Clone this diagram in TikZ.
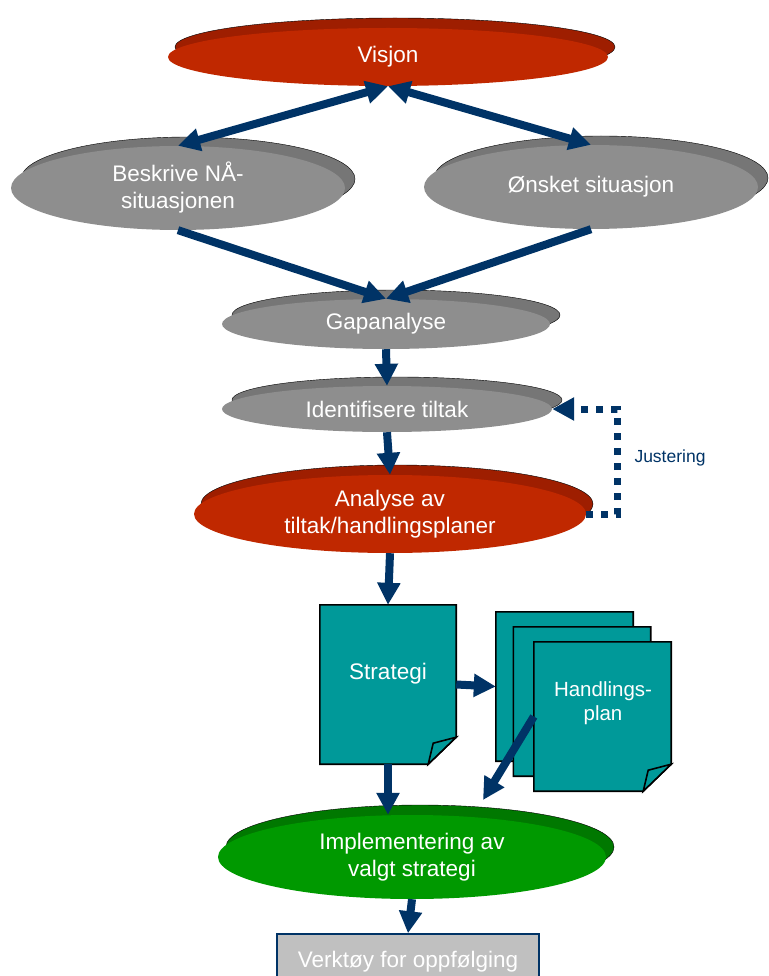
\documentclass[tikz,border=0pt]{standalone}
\usepackage{fontspec}
\setmainfont{Liberation Sans}
\usetikzlibrary{arrows.meta,shapes.geometric,shadows}
\definecolor{navy}{HTML}{003366}
\definecolor{visred}{HTML}{C02800}
\definecolor{visreddark}{HTML}{9E1E00}
\definecolor{stagegray}{HTML}{8E8E8E}
\definecolor{stagegraydark}{HTML}{767676}
\definecolor{implgreen}{HTML}{009900}
\definecolor{implgreendark}{HTML}{007800}
\definecolor{pageteal}{HTML}{009999}
\definecolor{toolgray}{HTML}{C0C0C0}
\tikzset{
  stage/.style={ellipse, inner sep=0pt, text=white, align=center,
    font=\fontsize{22.5}{27}\selectfont},
  redstage/.style={stage, fill=visred,
    copy shadow={shadow xshift=7pt, shadow yshift=10pt, fill=visreddark, opacity=1}},
  graystage/.style={stage, fill=stagegray,
    copy shadow={shadow xshift=10pt, shadow yshift=9pt, fill=stagegraydark, opacity=1}},
  greenstage/.style={stage, fill=implgreen,
    copy shadow={shadow xshift=8pt, shadow yshift=10pt, fill=implgreendark, opacity=1}},
  page/.style={rectangle, inner sep=0pt, minimum width=137pt, minimum height=149pt},
  pageline/.style={fill=pageteal, draw=black, line width=1.6pt, line join=miter},
  pagetext/.style={text=white, align=center, font=\fontsize{22.5}{27}\selectfont},
  toolbox/.style={rectangle, fill=toolgray, draw=navy, line width=1.5pt, text=white,
    minimum width=262pt, minimum height=56pt, font=\fontsize{22.5}{27}\selectfont},
  flow/.style={draw=navy, line width=8pt, ->},
  adjust/.style={draw=navy, line width=7pt, dash pattern=on 7pt off 8pt, ->},
  >={Triangle[length=22pt,width=22pt]}
}
% page with folded corner, drawn from the anchors of a page node
\newcommand{\pageoutline}[1]{%
  \filldraw[pageline] (#1.north west) -- (#1.north east) -- ([yshift=27pt]#1.south east)
    -- ([xshift=-28pt]#1.south east) -- (#1.south west) -- cycle;
  \filldraw[pageline] ([yshift=27pt]#1.south east) -- ([xshift=-28pt]#1.south east)
    -- ([xshift=-23pt,yshift=21pt]#1.south east) -- cycle;}
\begin{document}
\begin{tikzpicture}[x=1pt, y=-1pt]
  \useasboundingbox (0,0) rectangle (768,976);
  \node[redstage, minimum width=440pt, minimum height=58pt] (visjon) at (388,57) {Visjon};
  \node[graystage, minimum width=334pt, minimum height=84pt] (beskrive) at (178,188) {Beskrive NÅ-\\situasjonen};
  \node[graystage, minimum width=334pt, minimum height=84pt] (onsket) at (591,187) {Ønsket situasjon};
  \node[graystage, minimum width=328pt, minimum height=50pt] (gap) at (386,324) {Gapanalyse};
  \node[graystage, minimum width=330pt, minimum height=46pt] (ident) at (387,409) {Identifisere tiltak};
  \node[redstage, minimum width=392pt, minimum height=78pt] (analyse) at (390,514) {Analyse av\\tiltak/handlingsplaner};
  % documents
  \node[page, minimum width=136pt, minimum height=159pt] (strategi) at (388,684.5) {};
  \pageoutline{strategi}
  \node[pagetext] (strategitxt) at ([yshift=11pt]strategi.center) {Strategi};
  \node[page] (hp1) at (564.5,686.5) {};
  \pageoutline{hp1}
  \node[page] (hp2) at (582,701.5) {};
  \pageoutline{hp2}
  \node[page] (hp3) at (602.5,716.5) {};
  \pageoutline{hp3}
  \node[pagetext, font=\fontsize{20.5}{24}\selectfont] (hptxt) at (603,703) {Handlings-\\plan};
  \node[greenstage, minimum width=388pt, minimum height=84pt] (impl) at (412,857) {Implementering av\\valgt strategi};
  \node[toolbox] (verktoy) at (408,962) {\raisebox{6pt}{Verktøy for oppfølging}};
  \node[text=navy, font=\fontsize{17.5}{20}\selectfont] (justering) at (670,458) {Justering};
  \coordinate (hpend) at (483,800);
  % connectors
  \draw[flow, <->] (beskrive.north) -- (visjon.south);
  \draw[flow, <->] (onsket.north) -- (visjon.south);
  \draw[flow] (beskrive.south) -- (gap.north);
  \draw[flow] (onsket.south) -- (gap.north);
  \draw[flow] (gap.south) -- (ident.north);
  \draw[flow] (ident.south) -- (analyse.north);
  \draw[flow] (analyse.south) -- (strategi.north);
  \draw[flow] (strategi.east) -- (hp1.west);
  \draw[flow] (strategi.south) -- (strategi.south |- impl.north);
  \draw[flow] (hp3.west) -- (hpend);
  \draw[flow] (impl.south) -- (verktoy.north);
  \draw[adjust] (analyse.east) -- ++(31,0) |- (ident.east);
\end{tikzpicture}
\end{document}
